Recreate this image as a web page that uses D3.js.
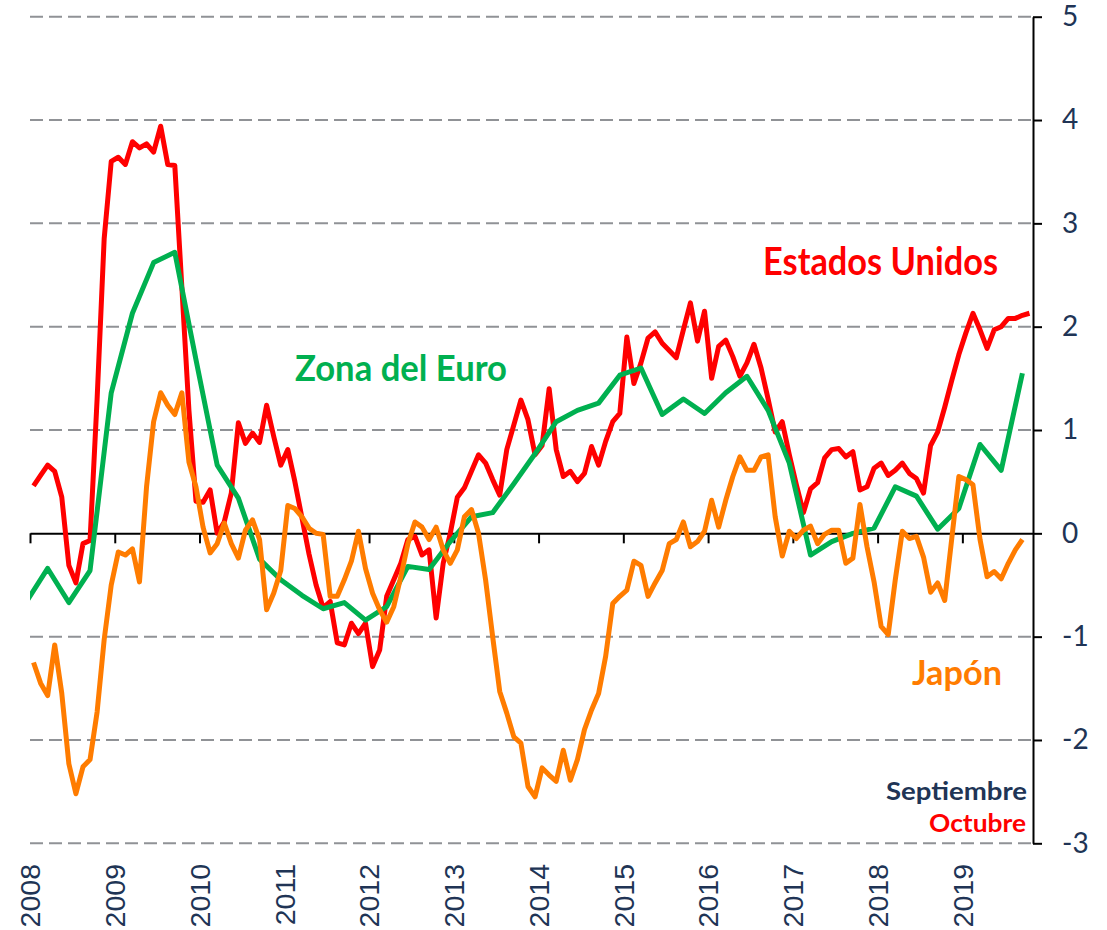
<!DOCTYPE html>
<html>
<head>
<meta charset="utf-8">
<script src="https://cdn.jsdelivr.net/npm/d3@7"></script>
<style>
  body { margin: 0; background: #fff; }
</style>
</head>
<body>
<script>
// Estados Unidos, monthly, Jan 2008 - Oct 2019
var usa = [
  0.46, 0.56, 0.66, 0.60, 0.35, -0.31, -0.48, -0.10, -0.07, 1.30, 2.85, 3.60,
  3.64, 3.57, 3.79, 3.73, 3.77, 3.69, 3.94, 3.57, 3.56, 2.38, 1.19, 0.31,
  0.30, 0.42, 0.00, 0.11, 0.39, 1.07, 0.87, 0.97, 0.88, 1.24, 0.94, 0.66,
  0.81, 0.50, 0.15, -0.20, -0.50, -0.72, -0.66, -1.06, -1.08, -0.87, -0.97, -0.87,
  -1.29, -1.13, -0.61, -0.45, -0.29, -0.06, -0.03, -0.21, -0.16, -0.82, -0.29, 0.00,
  0.35, 0.44, 0.60, 0.76, 0.68, 0.52, 0.37, 0.81, 1.05, 1.29, 1.10, 0.76,
  0.85, 1.40, 0.81, 0.55, 0.60, 0.50, 0.58, 0.84, 0.66, 0.89, 1.08, 1.16,
  1.90, 1.45, 1.65, 1.89, 1.95, 1.84, 1.77, 1.70, 1.97, 2.23, 1.86, 2.15,
  1.50, 1.81, 1.87, 1.71, 1.52, 1.65, 1.83, 1.60, 1.30, 0.98, 1.08, 0.76,
  0.47, 0.20, 0.43, 0.49, 0.73, 0.81, 0.82, 0.74, 0.79, 0.42, 0.45, 0.63,
  0.68, 0.56, 0.61, 0.68, 0.58, 0.53, 0.39, 0.85, 0.98, 1.22, 1.48, 1.73,
  1.94, 2.13, 1.97, 1.79, 1.97, 2.00, 2.08, 2.08, 2.11, 2.13
];

// Japón, monthly, Jan 2008 - Sep 2019
var japan = [
  -1.25, -1.45, -1.57, -1.08, -1.55, -2.23, -2.52, -2.26, -2.19, -1.73, -1.03, -0.50,
  -0.18, -0.21, -0.15, -0.47, 0.45, 1.08, 1.36, 1.24, 1.15, 1.36, 0.69, 0.45,
  0.06, -0.19, -0.10, 0.10, -0.10, -0.24, 0.03, 0.13, -0.06, -0.74, -0.58, -0.36,
  0.27, 0.24, 0.16, 0.05, 0.00, -0.01, -0.61, -0.61, -0.45, -0.27, 0.02, -0.34,
  -0.58, -0.74, -0.86, -0.71, -0.42, -0.10, 0.11, 0.06, -0.06, 0.06, -0.16, -0.29,
  -0.16, 0.16, 0.23, 0.00, -0.45, -1.00, -1.53, -1.74, -1.97, -2.03, -2.45, -2.55,
  -2.27, -2.34, -2.40, -2.10, -2.39, -2.19, -1.90, -1.71, -1.55, -1.19, -0.68, -0.61,
  -0.55, -0.27, -0.31, -0.61, -0.48, -0.36, -0.10, -0.06, 0.11, -0.13, -0.08, 0.02,
  0.32, 0.06, 0.32, 0.55, 0.74, 0.61, 0.61, 0.74, 0.76, 0.16, -0.22, 0.02,
  -0.05, 0.03, 0.07, -0.10, -0.01, 0.03, 0.03, -0.29, -0.24, 0.28, -0.13, -0.47,
  -0.90, -0.98, -0.45, 0.02, -0.05, -0.03, -0.23, -0.57, -0.48, -0.65, -0.05, 0.55,
  0.52, 0.47, -0.06, -0.42, -0.37, -0.44, -0.29, -0.16, -0.06
];

// Zona del Euro, quarterly (quarter-end months), Dec 2007 - Sep 2019
var euro = [
  -0.66, -0.34, -0.67, -0.36, 1.36, 2.13, 2.62, 2.72,
  1.68, 0.66, 0.34, -0.25, -0.45, -0.60, -0.73, -0.67,
  -0.84, -0.71, -0.32, -0.35, -0.08, 0.16, 0.20, 0.48,
  0.77, 1.08, 1.19, 1.26, 1.53, 1.60, 1.15, 1.30,
  1.16, 1.36, 1.52, 1.19, 0.68, -0.21, -0.08, 0.00,
  0.05, 0.45, 0.36, 0.04, 0.24, 0.86, 0.61, 1.55
];

var years = d3.range(2008, 2020);
var yTicks = d3.range(-3, 6);

var width = 1107, height = 930;
var plotLeft = 30, plotRight = 1033, plotTop = 16.7, plotBottom = 843.3;
var navy = "#203455";

var svg = d3.select('body').append('svg')
  .attr('width', width)
  .attr('height', height);

// months since Jan 2008, points sit in the middle of each month
var x = d3.scaleLinear().domain([0, 142]).range([plotLeft, plotRight]);
var y = d3.scaleLinear().domain([-3, 5]).range([plotBottom, plotTop]);

svg.append('clipPath').attr('id', 'plot-clip')
  .append('rect')
  .attr('x', plotLeft).attr('y', 0)
  .attr('width', plotRight - plotLeft).attr('height', height);

// dashed grid lines
svg.append('g')
  .selectAll('line')
  .data(yTicks.filter(d => d != 0))
  .enter().append('line')
  .attr('x1', plotLeft).attr('x2', plotRight)
  .attr('y1', d => y(d)).attr('y2', d => y(d))
  .attr('stroke', '#909296')
  .attr('stroke-width', 2)
  .attr('stroke-dasharray', '13,6');

// x axis through zero
var xAxis = d3.axisBottom(x)
  .tickValues(years.map(yr => (yr - 2008) * 12))
  .tickSize(10)
  .tickSizeOuter(0)
  .tickFormat('');
var gx = svg.append('g')
  .attr('transform', 'translate(0,' + y(0) + ')')
  .call(xAxis);
gx.selectAll('path, line').attr('stroke', '#000').attr('stroke-width', 2);

// right y axis
var yAxis = d3.axisRight(y)
  .tickValues(yTicks)
  .tickSize(9)
  .tickSizeOuter(0)
  .tickPadding(20)
  .tickFormat(d => String(d));
var gy = svg.append('g')
  .attr('transform', 'translate(' + plotRight + ',0)')
  .call(yAxis);
gy.selectAll('path, line').attr('stroke', '#000').attr('stroke-width', 2);
gy.selectAll('text')
  .attr('fill', navy)
  .style('font-family', 'Lato, sans-serif')
  .style('font-size', '28px');

// year labels at the bottom, rotated
svg.append('g')
  .selectAll('text')
  .data(years)
  .enter().append('text')
  .attr('transform', d => 'translate(' + x((d - 2008) * 12) + ',864) rotate(-90)')
  .attr('dy', '0.36em')
  .attr('text-anchor', 'end')
  .attr('fill', navy)
  .style('font-family', '"Liberation Sans", Arial, sans-serif')
  .style('font-size', '28.5px')
  .text(d => d);

// series
var line = d3.line()
  .x(d => x(d[0]))
  .y(d => y(d[1]));

var series = [
  { name: 'usa', color: '#ff0000', points: usa.map((v, i) => [i + 0.5, v]) },
  { name: 'euro', color: '#00b050', points: euro.map((v, i) => [i * 3 - 1 + 0.5, v]) },
  { name: 'japan', color: '#ff7c00', points: japan.map((v, i) => [i + 0.5, v]) }
];

svg.append('g')
  .attr('clip-path', 'url(#plot-clip)')
  .selectAll('path')
  .data(series)
  .enter().append('path')
  .attr('d', d => line(d.points))
  .attr('fill', 'none')
  .attr('stroke', d => d.color)
  .attr('stroke-width', 5)
  .attr('stroke-linejoin', 'round');

// series names and notes
var labels = [
  { text: 'Estados Unidos', x: 763, y: 275, w: 235, size: 39, color: '#ff0000' },
  { text: 'Zona del Euro', x: 295, y: 381, w: 212, size: 36, color: '#00b050' },
  { text: 'Japón', x: 912, y: 685, w: 90, size: 34, color: '#ff7c00' },
  { text: 'Septiembre', x: 886, y: 800, w: 141, size: 24, color: navy },
  { text: 'Octubre', x: 929, y: 832, w: 97, size: 24, color: '#ff0000' }
];

svg.append('g')
  .selectAll('text')
  .data(labels)
  .enter().append('text')
  .attr('x', d => d.x)
  .attr('y', d => d.y)
  .attr('textLength', d => d.w)
  .attr('lengthAdjust', 'spacingAndGlyphs')
  .attr('fill', d => d.color)
  .style('font-family', 'Lato, sans-serif')
  .style('font-weight', 'bold')
  .style('font-size', d => d.size + 'px')
  .text(d => d.text);
</script>
</body>
</html>
